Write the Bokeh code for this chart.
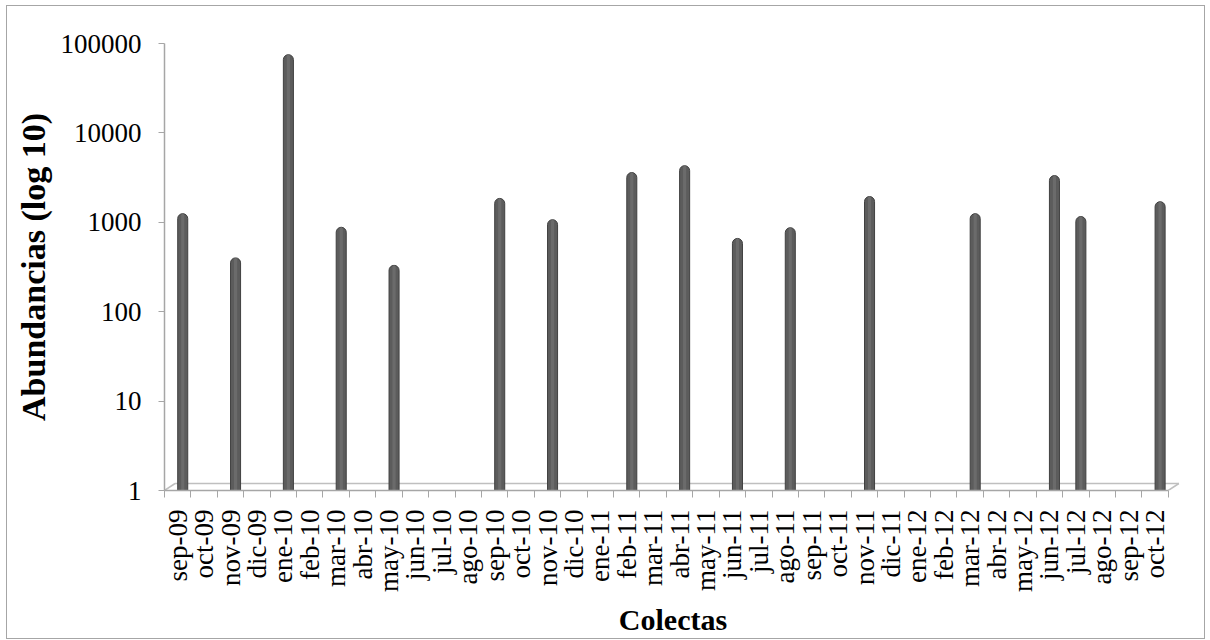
import math
from bokeh.plotting import figure
from bokeh.models import Range1d, FixedTicker, NumeralTickFormatter, CustomJSTickFormatter, ColumnDataSource
from bokeh.embed import file_html
from bokeh.resources import INLINE

months = ["sep-09", "oct-09", "nov-09", "dic-09",
          "ene-10", "feb-10", "mar-10", "abr-10", "may-10", "jun-10",
          "jul-10", "ago-10", "sep-10", "oct-10", "nov-10", "dic-10",
          "ene-11", "feb-11", "mar-11", "abr-11", "may-11", "jun-11",
          "jul-11", "ago-11", "sep-11", "oct-11", "nov-11", "dic-11",
          "ene-12", "feb-12", "mar-12", "abr-12", "may-12", "jun-12",
          "jul-12", "ago-12", "sep-12", "oct-12"]

abundances = [1250, None, 400, None, 75000, None, 880, None, 330, None,
              None, None, 1850, None, 1070, None, None, 3600, None, 4300,
              None, 660, None, 870, None, None, 1940, None, None, None,
              1250, None, None, 3330, 1160, None, None, 1700]

y_ticks = [1, 10, 100, 1000, 10000, 100000]

FONT = "Liberation Serif"
GRAY = "#a6a6a6"

n = len(months)
depth_x = 0.4                     # perspective offset of the 3D floor (category units)
depth_y = 10 ** (7 / 89.4)         # perspective offset of the 3D floor (log factor)
bar_shift = 0.19

xs, tops = [], []
for i, v in enumerate(abundances):
    if v is not None:
        xs.append(i + 0.5 + bar_shift)
        tops.append(v)
src = ColumnDataSource(data=dict(x=xs, top=tops))

p = figure(x_range=Range1d(0, n + 0.5), y_range=Range1d(1, 100000),
           y_axis_type="log",
           frame_width=1017, frame_height=447,
           min_border_left=157, min_border_right=23,
           min_border_top=37, min_border_bottom=147,
           output_backend="svg", toolbar_location=None,
           background_fill_color="white", border_fill_color="white")
p.outline_line_color = None
p.xgrid.visible = False
p.ygrid.visible = False
p.styles = {"border": "1px solid #a6a6a6", "margin": "5px 0px 0px 6px"}

# 3D floor outline
p.line(x=[0, depth_x], y=[1, depth_y], line_color="#bfbfbf", line_width=1.5)
p.line(x=[depth_x, n + depth_x], y=[depth_y, depth_y], line_color="#bfbfbf", line_width=1.5)
p.line(x=[n, n + depth_x], y=[1, depth_y], line_color="#bfbfbf", line_width=1.5)

# bars (cylinders)
p.vbar(x="x", top="top", bottom=1, width=0.38, source=src,
       fill_color="#5c5c5c", line_color="#404040", line_width=1,
       border_radius=(5, 5, 0, 0))
p.vbar(x="x", top="top", bottom=1, width=0.12, source=src,
       fill_color="#6b6b6b", line_color=None, border_radius=(2, 2, 0, 0))

# x axis
xa = p.xaxis[0]
xa.ticker = FixedTicker(ticks=[i + 0.5 for i in range(n)], minor_ticks=list(range(n + 1)))
xa.formatter = CustomJSTickFormatter(args=dict(months=months),
                                     code="const i = Math.floor(tick); return (i >= 0 && i < months.length) ? months[i] : '';")
xa.bounds = (0, n)
xa.major_tick_line_color = None
xa.major_tick_out = 7
xa.major_tick_in = 0
xa.minor_tick_line_color = GRAY
xa.minor_tick_out = 7
xa.minor_tick_in = 0
xa.axis_line_color = GRAY
xa.axis_line_width = 1.5
xa.major_label_orientation = math.pi / 2
xa.major_label_standoff = 12
xa.major_label_text_font = FONT
xa.major_label_text_font_size = "27px"
xa.major_label_text_color = "black"
xa.axis_label = "Colectas"
xa.axis_label_text_font = FONT
xa.axis_label_text_font_size = "30px"
xa.axis_label_text_font_style = "bold"
xa.axis_label_text_color = "black"
xa.axis_label_standoff = 8

# y axis
ya = p.yaxis[0]
ya.ticker = FixedTicker(ticks=y_ticks, minor_ticks=[])
ya.formatter = NumeralTickFormatter(format="0")
ya.axis_line_color = GRAY
ya.axis_line_width = 1.5
ya.major_tick_line_color = GRAY
ya.major_tick_out = 6
ya.major_tick_in = 0
ya.minor_tick_line_color = None
ya.major_label_standoff = 17
ya.major_label_text_font = FONT
ya.major_label_text_font_size = "27px"
ya.major_label_text_color = "black"
ya.axis_label = "Abundancias (log 10)"
ya.axis_label_text_font = FONT
ya.axis_label_text_font_size = "34px"
ya.axis_label_text_font_style = "bold"
ya.axis_label_text_color = "black"
ya.axis_label_standoff = 6

open("out.html", "w").write(file_html(p, INLINE))
